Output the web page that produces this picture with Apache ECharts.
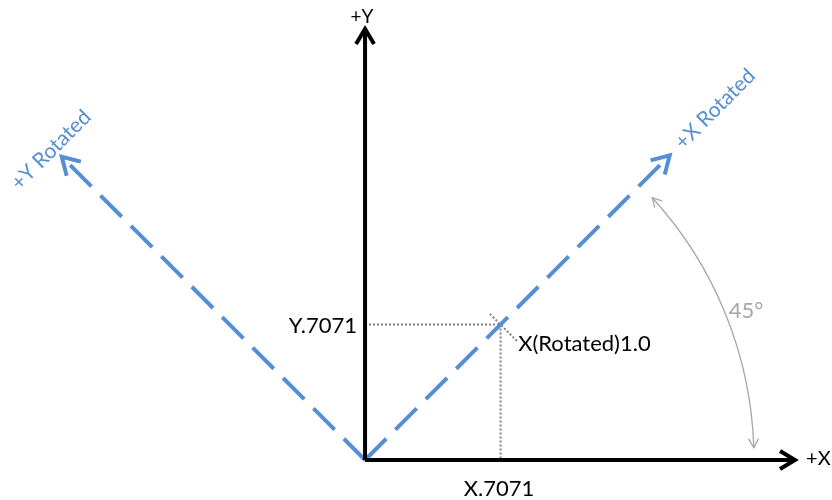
<!DOCTYPE html>
<html><head><meta charset="utf-8">
<script src="https://cdn.jsdelivr.net/npm/echarts@6/dist/echarts.min.js"></script>
<style>html,body{margin:0;padding:0;background:#fff}#main{width:832px;height:500px}</style>
</head><body><div id="main"></div>
<script>
// ---- data (in axis units; 1.0 = unit vector) ----
const axisSegments = [[0, 0, 2.244, 0], [0, 0, 0, 2.25]];            // +X, +Y
const rotatedSegments = [[0, 0, 1.59, 1.59], [0, 0, -1.583, 1.583]];  // +X Rotated, +Y Rotated
const projectionSegments = [[0, 0.7071, 0.7071, 0.7071], [0.7071, 0.7071, 0.7071, 0]];
const tickSegments = [[0.652, 0.762, 0.793, 0.621]];
const angleArcs = [[0, 0, 2.03, 1.8, 42.4]]; // cx, cy, r, startDeg, endDeg
const labelTexts = ['+Y', '+X', 'Y.7071', 'X.7071', 'X(Rotated)1.0', '45°', '+X Rotated', '+Y Rotated'];
const labelX = [-0.016, 2.302, -0.042, 0.699, 0.799, 1.989, 1.827, -1.639];
const labelY = [2.312, 0.010, 0.699, -0.151, 0.605, 0.778, 1.832, 1.618];

// ---- styles ----
const FONT = 'Lato, "Open Sans", sans-serif';
const BLUE = '#558ED5';
const labelStyles = [
  {size: 19, color: '#000', align: 'center', rot: 0},
  {size: 20, color: '#000', align: 'left', rot: 0},
  {size: 22, color: '#000', align: 'right', rot: 0},
  {size: 22, color: '#000', align: 'center', rot: 0},
  {size: 22, color: '#000', align: 'left', rot: 0},
  {size: 22, color: '#A6A6A6', align: 'center', rot: 0},
  {size: 21, color: BLUE, align: 'center', rot: 45},
  {size: 21, color: BLUE, align: 'center', rot: 45}
];

function chevron(tip, ang, len, half) {
  const bx = tip[0] - len * Math.cos(ang), by = tip[1] - len * Math.sin(ang);
  const nx = -Math.sin(ang), ny = Math.cos(ang);
  return [[bx + half * nx, by + half * ny], tip, [bx - half * nx, by - half * ny]];
}

function segRenderer(lineStyle, arrow) {
  return function (params, api) {
    const p0 = api.coord([api.value(0), api.value(1)]);
    const p1 = api.coord([api.value(2), api.value(3)]);
    const ang = Math.atan2(p1[1] - p0[1], p1[0] - p0[0]);
    let end = p1;
    if (arrow) end = [p1[0] - arrow.trim * Math.cos(ang), p1[1] - arrow.trim * Math.sin(ang)];
    const children = [{
      type: 'line', shape: {x1: p0[0], y1: p0[1], x2: end[0], y2: end[1]},
      style: Object.assign({fill: null}, lineStyle)
    }];
    if (arrow) {
      children.push({
        type: 'polyline', shape: {points: chevron(p1, ang, arrow.len, arrow.half)},
        style: {stroke: lineStyle.stroke, lineWidth: lineStyle.lineWidth, fill: null, lineJoin: 'miter', lineCap: 'butt'}
      });
    }
    return {type: 'group', children};
  };
}

function arcRenderer(params, api) {
  const c = api.coord([api.value(0), api.value(1)]);
  const r = api.size([api.value(2), 0])[0];
  const a0 = api.value(3) * Math.PI / 180, a1 = api.value(4) * Math.PI / 180;
  const st = {stroke: '#A6A6A6', lineWidth: 1.3, fill: null};
  const top = [c[0] + r * Math.cos(a1), c[1] - r * Math.sin(a1)];
  const bot = [c[0] + r * Math.cos(a0), c[1] - r * Math.sin(a0)];
  const angTop = Math.atan2(-Math.cos(a1), -Math.sin(a1));
  const angBot = Math.atan2(Math.cos(a0), Math.sin(a0));
  return {type: 'group', children: [
    {type: 'arc', shape: {cx: c[0], cy: c[1], r: r, startAngle: -a1, endAngle: -a0, clockwise: true}, style: st},
    {type: 'polyline', shape: {points: chevron(top, angTop, 9, 5)}, style: st},
    {type: 'polyline', shape: {points: chevron(bot, angBot, 9, 5)}, style: st}
  ]};
}

function labelRenderer(params, api) {
  const i = params.dataIndex;
  const p = api.coord([api.value(0), api.value(1)]);
  const s = labelStyles[i];
  return {
    type: 'text', x: p[0], y: p[1], rotation: s.rot * Math.PI / 180,
    style: {text: labelTexts[i], fill: s.color, fontSize: s.size, fontFamily: FONT,
            align: s.align, verticalAlign: 'middle'}
  };
}

const labelData = labelTexts.map((t, i) => [labelX[i], labelY[i]]);

const chart = echarts.init(document.getElementById('main'), null, {renderer: 'canvas'});
chart.setOption({
  animation: false,
  backgroundColor: '#fff',
  grid: {left: 1.0, top: 0.2, width: 823.9, height: 498.1},
  xAxis: {type: 'value', min: -1.9, max: 2.4, show: false},
  yAxis: {type: 'value', min: -0.2, max: 2.4, show: false},
  series: [
    {type: 'custom', renderItem: segRenderer({stroke: '#7F7F7F', lineWidth: 2, lineDash: [2, 2]}, null),
     data: projectionSegments, clip: false, z: 1},
    {type: 'custom', renderItem: segRenderer({stroke: '#7F7F7F', lineWidth: 2, lineDash: [2, 2]}, null),
     data: tickSegments, clip: false, z: 1},
    {type: 'custom', renderItem: segRenderer({stroke: BLUE, lineWidth: 4, lineDash: [30, 13]}, {len: 17, half: 10, trim: 2}),
     data: rotatedSegments, clip: false, z: 2},
    {type: 'custom', renderItem: segRenderer({stroke: '#000', lineWidth: 4}, {len: 15, half: 9, trim: 3}),
     data: axisSegments, clip: false, z: 3},
    {type: 'custom', renderItem: arcRenderer, data: angleArcs, clip: false, z: 2},
    {type: 'custom', renderItem: labelRenderer, data: labelData, clip: false, z: 4}
  ]
});
</script>
</body></html>
